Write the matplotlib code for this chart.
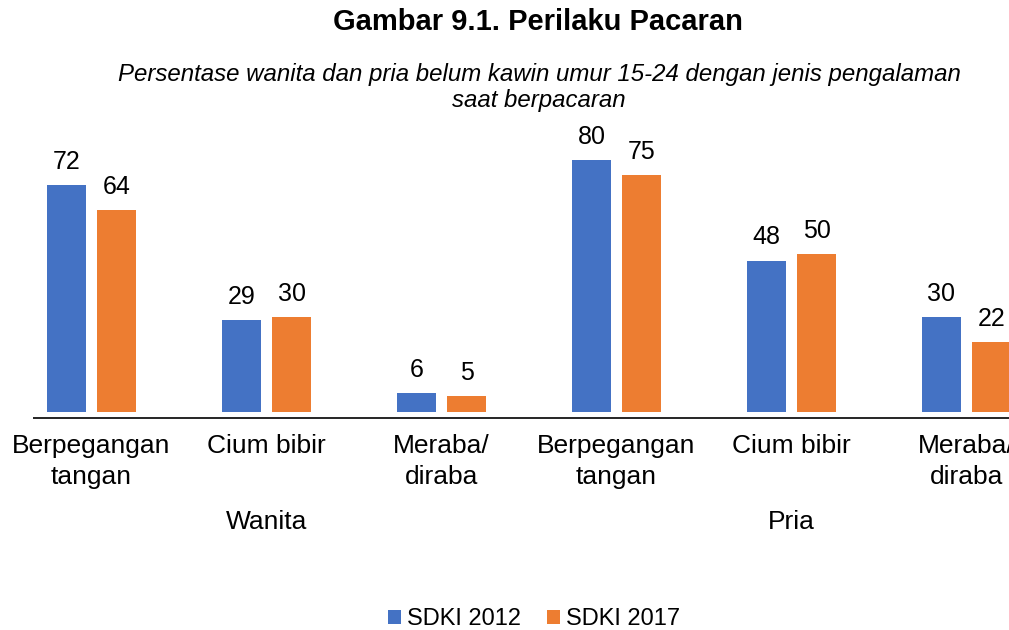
import matplotlib
matplotlib.use("Agg")
import matplotlib.pyplot as plt
from matplotlib.patches import Patch
from matplotlib.transforms import blended_transform_factory
import numpy as np

plt.rcParams['font.family'] = ['Liberation Sans', 'DejaVu Sans']

# Data
title = "Gambar 9.1. Perilaku Pacaran"
subtitle = ("Persentase wanita dan pria belum kawin umur 15-24 dengan jenis pengalaman\n"
            "saat berpacaran")
categories = ["Berpegangan\ntangan", "Cium bibir", "Meraba/\ndiraba",
              "Berpegangan\ntangan", "Cium bibir", "Meraba/\ndiraba"]
groups = ["Wanita", "Pria"]
series_names = ["SDKI 2012", "SDKI 2017"]
sdki_2012 = [72, 29, 6, 80, 48, 30]
sdki_2017 = [64, 30, 5, 75, 50, 22]
colors = ["#4472C4", "#ED7D31"]

fig = plt.figure(figsize=(10.09, 6.30), dpi=100)
H = 630.0
W = 1009.0

# Axes covering the full width; right-most category runs off the edge
ax = fig.add_axes([0, (H - 420) / H, 1, 290 / H])
px_per_unit = 3.15
ax.set_ylim(-(420 - 411.7) / px_per_unit, (411.7 - 130) / px_per_unit)
ax.set_xlim((0 - 91.5) / 175, (W - 91.5) / 175)
ax.axis('off')

x = np.arange(len(categories))
bw = 0.223
off = 0.143
for vals, sgn, col in [(sdki_2012, -1, colors[0]), (sdki_2017, 1, colors[1])]:
    bars = ax.bar(x + sgn * off, vals, width=bw, color=col, clip_on=False)
    for b, v in zip(bars, vals):
        ax.annotate(f"{v}", (b.get_x() + b.get_width() / 2, v),
                    xytext=(0, 8), textcoords='offset points',
                    ha='center', va='bottom', fontsize=18, color='#000000',
                    annotation_clip=False)

# Category axis line (sits slightly below the bar bases)
ax.plot([(33 - 91.5) / 175, 7], [-1.9, -1.9], color='#000000', lw=1.2,
        clip_on=False, solid_capstyle='butt')

tr = blended_transform_factory(ax.transData, fig.transFigure)
for xi, lab in zip(x, categories):
    ax.text(xi, 1 - 434 / H, lab, transform=tr, ha='center', va='top',
            fontsize=19, linespacing=1.35, color='#000000', clip_on=False)

for gi, g in enumerate(groups):
    ax.text(gi * 3 + 1, 1 - 522 / H, g, transform=tr, ha='center', va='center',
            fontsize=19, color='#000000')

fig.text(538 / W, 1 - 22 / H, title, ha='center', va='center',
         fontsize=21, fontweight='bold', color='#000000')
fig.text(539 / W, 1 - 87.5 / H, subtitle, ha='center', va='center',
         fontsize=17.3, style='italic', linespacing=1.2, color='#000000')

handles = [Patch(facecolor=c, edgecolor='none', label=n)
           for c, n in zip(colors, series_names)]
fig.legend(handles=handles, loc='center', bbox_to_anchor=(534 / W, 1 - 619 / H),
           ncol=2, frameon=False, fontsize=17, handlelength=0.55,
           handleheight=0.55, handletextpad=0.25, columnspacing=1.1,
           borderpad=0)

fig.savefig("out.png", dpi=100)
